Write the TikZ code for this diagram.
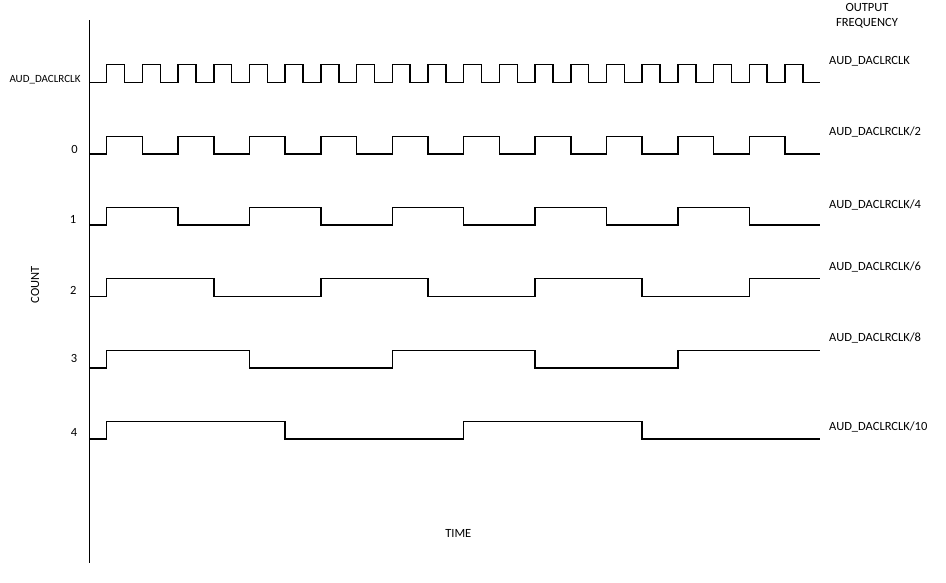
\documentclass[tikz,border=0pt]{standalone}
\usepackage{fontspec}
\setmainfont{Carlito}
\begin{document}
\begin{tikzpicture}[x=1pt,y=-1pt,
  wave/.style={line width=1.5pt, line join=miter},
  axisline/.style={line width=1.5pt},
  lbl/.style={inner sep=0pt, font=\fontsize{12.5}{14}\selectfont},
  lbls/.style={inner sep=0pt, font=\fontsize{11}{13}\selectfont},
  outlbl/.style={lbl, anchor=west}]
\useasboundingbox (0,0) rectangle (946,582);
% axis
\coordinate (atop) at (89.5,20);
\coordinate (abot) at (89.5,562.5);
\draw[axisline] (atop) -- (abot);
% clock
\def\L{82.7}\def\H{64.6}
\draw[wave] (89.5,\L) \foreach \k in {0,...,19} { -- ({106.7+35.7*\k},\L) -- ({106.7+35.7*\k},\H) -- ({124.55+35.7*\k},\H) -- ({124.55+35.7*\k},\L) } -- (820,\L);
% /2
\def\L{154.2}\def\H{136.5}
\draw[wave] (89.5,\L) \foreach \k in {0,...,9} { -- ({106.7+71.4*\k},\L) -- ({106.7+71.4*\k},\H) -- ({142.4+71.4*\k},\H) -- ({142.4+71.4*\k},\L) } -- (820,\L);
% /4
\def\L{225.2}\def\H{207.4}
\draw[wave] (89.5,\L) \foreach \k in {0,...,4} { -- ({106.7+142.8*\k},\L) -- ({106.7+142.8*\k},\H) -- ({178.1+142.8*\k},\H) -- ({178.1+142.8*\k},\L) } -- (820,\L);
% /6
\def\L{296.4}\def\H{278.6}
\draw[wave] (89.5,\L) \foreach \k in {0,...,2} { -- ({106.7+214.2*\k},\L) -- ({106.7+214.2*\k},\H) -- ({213.8+214.2*\k},\H) -- ({213.8+214.2*\k},\L) } -- (749.3,\L) -- (749.3,\H) -- (820,\H);
% /8
\def\L{368.2}\def\H{350.4}
\draw[wave] (89.5,\L) \foreach \k in {0,...,1} { -- ({106.7+285.6*\k},\L) -- ({106.7+285.6*\k},\H) -- ({249.5+285.6*\k},\H) -- ({249.5+285.6*\k},\L) } -- (677.9,\L) -- (677.9,\H) -- (820,\H);
% /10
\def\L{439}\def\H{421.3}
\draw[wave] (89.5,\L) \foreach \k in {0,...,1} { -- ({106.7+357*\k},\L) -- ({106.7+357*\k},\H) -- ({285.2+357*\k},\H) -- ({285.2+357*\k},\L) } -- (820,\L);
% left labels
\node[lbls] (lclk) at (45,79.3) {AUD\_DACLRCLK};
\node[lbl] (l0) at (74.5,149) {0};
\node[lbl] (l1) at (73,219.3) {1};
\node[lbl] (l2) at (73.3,290) {2};
\node[lbl] (l3) at (74,358.3) {3};
\node[lbl] (l4) at (74,432.3) {4};
\node[lbl, rotate=90] (count) at (35,285) {COUNT};
\node[lbl] (time) at (458.3,533.3) {TIME};
% right labels
\node[lbl] (out1) at (867,7.5) {OUTPUT};
\node[lbl] (out2) at (867,23.3) {FREQUENCY};
\node[outlbl] (r0) at (829,61.7) {AUD\_DACLRCLK};
\node[outlbl] (r1) at (829,132.3) {AUD\_DACLRCLK/2};
\node[outlbl] (r2) at (829,205) {AUD\_DACLRCLK/4};
\node[outlbl] (r3) at (829,267.3) {AUD\_DACLRCLK/6};
\node[outlbl] (r4) at (829,337.7) {AUD\_DACLRCLK/8};
\node[outlbl] (r5) at (829,426.7) {AUD\_DACLRCLK/10};
\end{tikzpicture}
\end{document}
